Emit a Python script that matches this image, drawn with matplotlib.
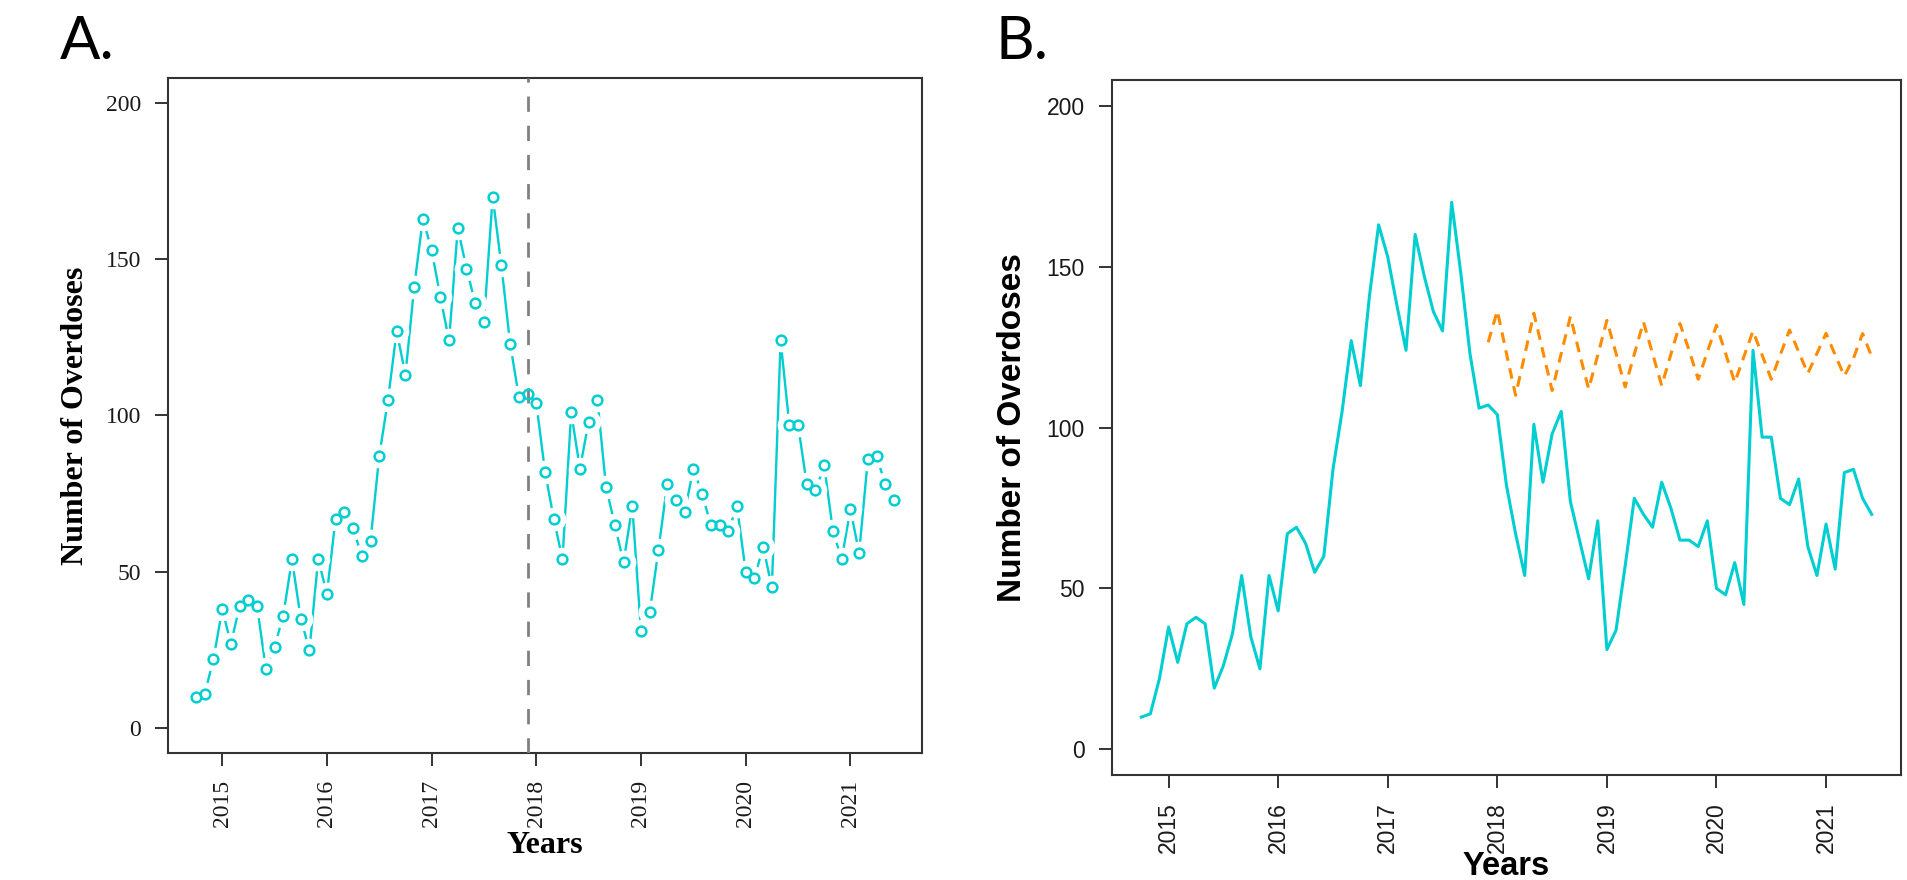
import numpy as np
import matplotlib
matplotlib.use("Agg")
import matplotlib.pyplot as plt

# monthly overdose counts, Oct 2014 - Jun 2021
start_year = 2014
start_month = 10
overdoses = [10, 11, 22, 38, 27, 39, 41, 39, 19, 26, 36, 54, 35, 25, 54, 43,
             67, 69, 64, 55, 60, 87, 105, 127, 113, 141, 163, 153, 138, 124,
             160, 147, 136, 130, 170, 148, 123, 106, 107, 104, 82, 67, 54, 101,
             83, 98, 105, 77, 65, 53, 71, 31, 37, 57, 78, 73, 69, 83, 75, 65,
             65, 63, 71, 50, 48, 58, 45, 124, 97, 97, 78, 76, 84, 63, 54, 70,
             56, 86, 87, 78, 73]

# forecast, Dec 2017 - Jun 2021
fc_start_index = 38
forecast = [126.5, 136.3, 123, 110, 122.5, 135.5, 123.5, 111.5, 123, 134.5,
            123, 112, 122.5, 133.3, 123, 112.6, 122.8, 132.8, 123, 113, 122.7,
            132.3, 124, 115, 123.5, 131.8, 123, 114, 122, 130, 122.5, 115,
            122.7, 130.3, 123.5, 116.8, 123, 129.3, 122.5, 116, 121.5, 129.2,
            122]

split_time = 2017 + 11 / 12
year_ticks = [2015, 2016, 2017, 2018, 2019, 2020, 2021]
y_ticks = [0, 50, 100, 150, 200]

cyan = "#00CED1"
orange = "#FF8C00"
frame = "#333333"

t = start_year + (start_month - 1) / 12 + np.arange(len(overdoses)) / 12
t_fc = t[fc_start_index:fc_start_index + len(forecast)]

span = t[-1] - t[0]
xlim = (t[0] - 0.04 * span, t[-1] + 0.04 * span)
ylim = (-8, 208)

fig = plt.figure(figsize=(19.08, 8.8), dpi=100)

serif = "Liberation Serif"
sans = "Liberation Sans"


def style_axes(ax, fam, tick_size):
    ax.set_xlim(xlim)
    ax.set_ylim(ylim)
    ax.set_xticks(year_ticks)
    ax.set_yticks(y_ticks)
    for s in ax.spines.values():
        s.set_color(frame)
        s.set_linewidth(1.5)
    ax.tick_params(axis="both", length=9.5, width=1.4, color=frame,
                   labelsize=tick_size, labelcolor="#1a1a1a", pad=10)
    ax.tick_params(axis="x", labelrotation=90)
    for lab in ax.get_xticklabels() + ax.get_yticklabels():
        lab.set_family(fam)


# ---- panel A ----
axA = fig.add_axes([0.0881, 0.1443, 0.3951, 0.7671])
axA.plot(t, overdoses, color=cyan, lw=1.7, zorder=2)
axA.plot(t, overdoses, "o", ms=16, mfc="white", mec="white", zorder=3)
axA.axvline(split_time, color="#808080", lw=2, dashes=(5.5, 5), zorder=4)
axA.plot(t, overdoses, "o", ms=7, mfc="none", mec=cyan, mew=1.8, zorder=5)
style_axes(axA, serif, 17)
axA.set_ylabel("Number of Overdoses", family=serif, weight="bold",
               fontsize=23, va="center")
axA.yaxis.set_label_coords(-0.123, 0.5)
axA.set_xlabel("Years", family=serif, weight="bold", fontsize=23,
               va="baseline")
axA.xaxis.set_label_coords(0.5, -0.148)

# ---- panel B ----
axB = fig.add_axes([0.5828, 0.1193, 0.4135, 0.7898])
axB.plot(t, overdoses, color=cyan, lw=2.2)
axB.plot(t_fc, forecast, color=orange, lw=2.2, dashes=(3.5, 2.5))
style_axes(axB, sans, 16.5)
axB.set_ylabel("Number of Overdoses", family=sans, weight="bold",
               fontsize=24, va="center")
axB.yaxis.set_label_coords(-0.1255, 0.5)
axB.set_xlabel("Years", family=sans, weight="bold", fontsize=23.5,
               va="baseline")
axB.xaxis.set_label_coords(0.5, -0.144)

fig.text(0.0314, 0.933, "A.", family="Lato", fontsize=43, va="baseline")
fig.text(0.5215, 0.933, "B.", family="Lato", fontsize=43, va="baseline")

fig.savefig("out.png", dpi=100)
